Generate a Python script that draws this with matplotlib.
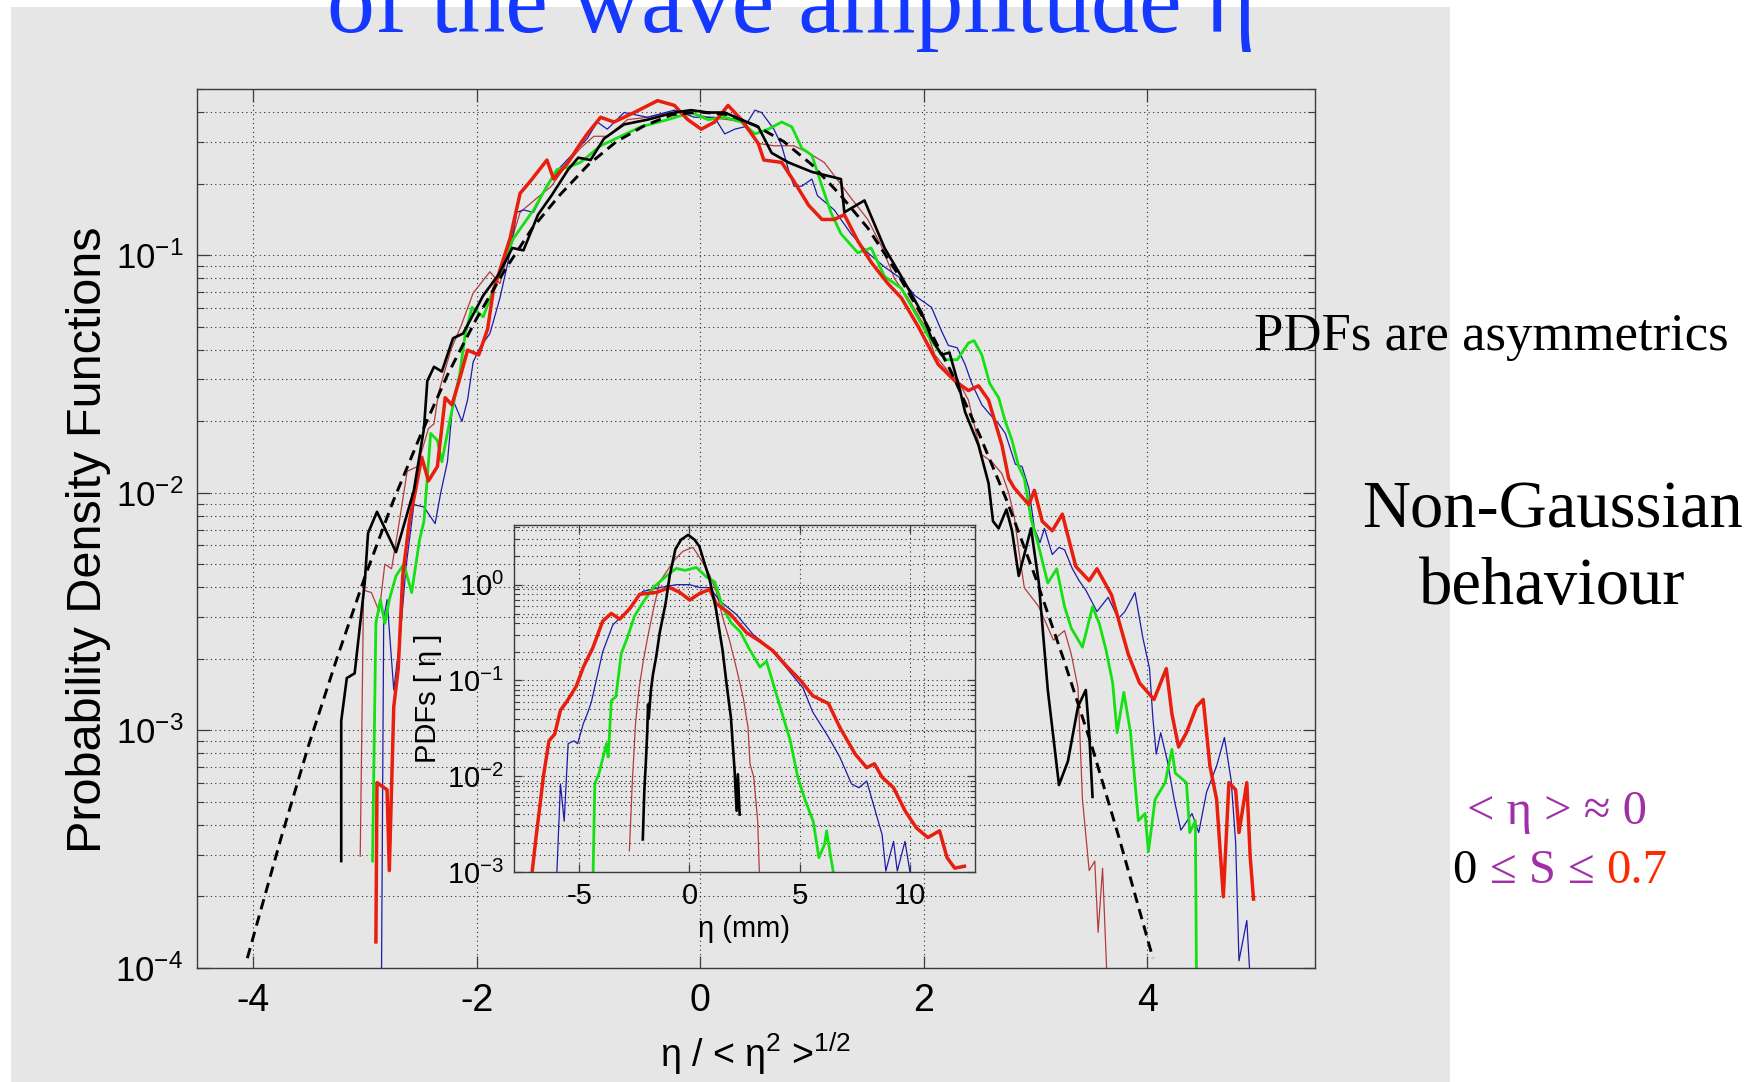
import numpy as np
import matplotlib
matplotlib.use('Agg')
import matplotlib.pyplot as plt
from matplotlib.patches import Rectangle
from matplotlib.ticker import LogLocator, NullFormatter, FixedLocator

plt.rcParams['font.family'] = ['Liberation Sans', 'DejaVu Sans']
plt.rcParams['mathtext.default'] = 'regular'
plt.rcParams['axes.unicode_minus'] = False

# ---------------- data ----------------
# main panel: x = eta / <eta^2>^(1/2), y given as log10(PDF)
gauss_x = [-4.05, -3.75, -3.5, -3.25, -3.0, -2.75, -2.5, -2.25, -2.0, -1.75, -1.5, -1.25, -1.0,
           -0.75, -0.5, -0.25, 0.0, 0.25, 0.5, 0.75, 1.0, 1.25, 1.5, 1.75, 2.0, 2.25, 2.5, 2.75,
           3.0, 3.25, 3.5, 3.75, 4.05]
gauss_pdf = [1.1e-4, 3.5e-4, 8.7e-4, 2.0e-3, 4.4e-3, 9.1e-3, 1.75e-2, 3.2e-2, 5.4e-2, 8.6e-2, 0.13,
             0.18, 0.24, 0.30, 0.35, 0.39, 0.40, 0.39, 0.35, 0.30, 0.24, 0.18, 0.13, 8.6e-2, 5.4e-2,
             3.2e-2, 1.75e-2, 9.1e-3, 4.4e-3, 2.0e-3, 8.7e-4, 3.5e-4, 1.1e-4]

black_x = [-3.21, -3.21, -3.16, -3.09, -3.00, -2.97, -2.89, -2.72, -2.67, -2.56, -2.47, -2.44, -2.38,
           -2.31, -2.26, -2.21, -2.12, -2.03, -1.94, -1.80, -1.68, -1.58, -1.45, -1.33, -1.18, -1.09,
           -0.98, -0.86, -0.68, -0.47, -0.23, -0.08, 0.07, 0.22, 0.37, 0.52, 0.64, 0.79, 1.00, 1.26,
           1.29, 1.47, 1.65, 1.80, 1.98, 2.07, 2.16, 2.23, 2.32, 2.37, 2.49, 2.58, 2.62, 2.67, 2.74,
           2.79, 2.85, 2.90, 2.96, 3.03, 3.11, 3.21, 3.29, 3.38, 3.45, 3.48, 3.51]
black_lg = [-3.55, -2.96, -2.78, -2.76, -2.38, -2.17, -2.08, -2.25, -2.17, -1.99, -1.73, -1.53, -1.47,
            -1.49, -1.42, -1.35, -1.33, -1.25, -1.17, -1.08, -0.97, -0.98, -0.83, -0.75, -0.64, -0.59,
            -0.60, -0.51, -0.45, -0.43, -0.40, -0.39, -0.40, -0.40, -0.43, -0.46, -0.57, -0.61, -0.65,
            -0.68, -0.82, -0.77, -0.97, -1.09, -1.24, -1.35, -1.42, -1.41, -1.56, -1.66, -1.80, -1.96,
            -2.12, -2.15, -2.07, -2.16, -2.35, -2.26, -2.15, -2.38, -2.83, -3.23, -3.13, -2.90, -2.83,
            -3.01, -3.28]

red_x = [-2.90, -2.89, -2.80, -2.78, -2.74, -2.70, -2.66, -2.60, -2.55, -2.49, -2.43, -2.35, -2.28,
         -2.22, -2.15, -2.08, -1.98, -1.90, -1.85, -1.70, -1.61, -1.52, -1.37, -1.31, -1.18, -1.07,
         -1.01, -0.89, -0.77, -0.59, -0.38, -0.23, -0.11, 0.01, 0.13, 0.25, 0.37, 0.52, 0.57, 0.73,
         0.84, 0.97, 1.09, 1.20, 1.29, 1.41, 1.53, 1.68, 1.80, 1.95, 2.13, 2.28, 2.40, 2.49, 2.58,
         2.70, 2.76, 2.81, 2.94, 2.99, 3.06, 3.15, 3.24, 3.30, 3.36, 3.48, 3.55, 3.68, 3.83, 3.93,
         4.06, 4.17, 4.22, 4.28, 4.35, 4.44, 4.50, 4.56, 4.62, 4.68, 4.73, 4.79, 4.82, 4.89, 4.92, 4.95]
red_lg = [-3.89, -3.22, -3.25, -3.59, -2.90, -2.74, -2.35, -2.12, -2.00, -1.85, -1.95, -1.89, -1.60,
          -1.63, -1.52, -1.40, -1.42, -1.31, -1.15, -0.93, -0.74, -0.69, -0.60, -0.68, -0.61, -0.53,
          -0.49, -0.42, -0.44, -0.40, -0.35, -0.37, -0.43, -0.47, -0.44, -0.37, -0.43, -0.53, -0.60,
          -0.61, -0.69, -0.79, -0.85, -0.85, -0.83, -0.94, -1.03, -1.12, -1.18, -1.30, -1.46, -1.53,
          -1.57, -1.55, -1.61, -1.80, -1.94, -1.98, -2.05, -1.99, -2.12, -2.16, -2.09, -2.20, -2.31,
          -2.37, -2.32, -2.43, -2.68, -2.80, -2.87, -2.74, -2.93, -3.07, -3.01, -2.90, -2.87, -3.15,
          -3.29, -3.70, -3.22, -3.25, -3.43, -3.22, -3.53, -3.71]

green_x = [-2.93, -2.90, -2.86, -2.82, -2.78, -2.72, -2.65, -2.58, -2.51, -2.47, -2.41, -2.35, -2.31,
           -2.24, -2.15, -2.10, -2.04, -1.94, -1.83, -1.67, -1.49, -1.37, -1.28, -1.18, -1.07, -0.89,
           -0.71, -0.53, -0.29, -0.08, 0.07, 0.22, 0.37, 0.49, 0.61, 0.73, 0.82, 0.91, 1.00, 1.09,
           1.17, 1.26, 1.41, 1.53, 1.65, 1.80, 1.92, 2.04, 2.19, 2.30, 2.40, 2.45, 2.52, 2.59, 2.67,
           2.73, 2.79, 2.85, 2.90, 2.96, 3.02, 3.11, 3.19, 3.26, 3.32, 3.42, 3.51, 3.57, 3.63, 3.69,
           3.73, 3.79, 3.85, 3.92, 3.98, 4.01, 4.07, 4.16, 4.22, 4.25, 4.35, 4.38, 4.43, 4.44]
green_lg = [-3.55, -2.55, -2.45, -2.55, -2.45, -2.35, -2.30, -2.42, -2.20, -2.12, -1.75, -1.78, -1.87,
            -1.70, -1.50, -1.33, -1.22, -1.26, -1.12, -0.93, -0.81, -0.71, -0.64, -0.63, -0.61, -0.54,
            -0.50, -0.46, -0.43, -0.40, -0.43, -0.42, -0.44, -0.49, -0.47, -0.44, -0.46, -0.55, -0.58,
            -0.71, -0.82, -0.91, -0.99, -0.97, -1.09, -1.14, -1.24, -1.34, -1.44, -1.44, -1.37, -1.36,
            -1.42, -1.54, -1.60, -1.70, -1.78, -1.89, -1.94, -2.11, -2.21, -2.38, -2.32, -2.48, -2.57,
            -2.65, -2.48, -2.55, -2.66, -2.80, -3.01, -2.84, -3.01, -3.38, -3.35, -3.51, -3.29, -3.22,
            -3.08, -3.18, -3.22, -3.43, -3.38, -4.05]

blue_x = [-2.85, -2.83, -2.80, -2.74, -2.68, -2.63, -2.56, -2.47, -2.37, -2.32, -2.26, -2.21, -2.13,
          -2.08, -2.03, -1.97, -1.88, -1.79, -1.70, -1.64, -1.58, -1.49, -1.37, -1.25, -1.13, -1.01,
          -0.92, -0.83, -0.68, -0.47, -0.23, -0.05, 0.13, 0.22, 0.31, 0.40, 0.49, 0.55, 0.66, 0.73,
          0.79, 0.84, 0.91, 1.00, 1.05, 1.20, 1.35, 1.50, 1.65, 1.80, 1.92, 2.07, 2.16, 2.22, 2.30,
          2.37, 2.43, 2.52, 2.61, 2.67, 2.73, 2.82, 2.88, 2.94, 2.99, 3.04, 3.08, 3.15, 3.21, 3.26,
          3.33, 3.39, 3.45, 3.55, 3.65, 3.74, 3.80, 3.89, 3.96, 4.02, 4.05, 4.08, 4.12, 4.18, 4.24,
          4.30, 4.40, 4.46, 4.53, 4.62, 4.69, 4.75, 4.79, 4.82, 4.89, 4.92]
blue_lg = [-4.05, -2.53, -2.45, -2.83, -2.59, -2.31, -2.05, -2.06, -2.13, -2.00, -1.87, -1.61, -1.70,
           -1.61, -1.45, -1.39, -1.33, -1.18, -0.99, -0.82, -0.81, -0.82, -0.71, -0.63, -0.57, -0.51,
           -0.44, -0.47, -0.40, -0.42, -0.39, -0.42, -0.42, -0.49, -0.47, -0.46, -0.39, -0.40, -0.47,
           -0.54, -0.64, -0.71, -0.71, -0.68, -0.75, -0.81, -0.91, -0.99, -1.05, -1.10, -1.17, -1.22,
           -1.32, -1.38, -1.39, -1.46, -1.54, -1.63, -1.68, -1.71, -1.75, -1.88, -1.89, -1.98, -2.15,
           -2.21, -2.15, -2.26, -2.23, -2.24, -2.32, -2.37, -2.41, -2.50, -2.44, -2.53, -2.50, -2.42,
           -2.61, -2.74, -2.95, -3.10, -3.01, -3.13, -3.29, -3.42, -3.35, -3.43, -3.26, -3.15, -3.03,
           -3.21, -3.47, -3.97, -3.80, -4.05]

dred_x = [-3.04, -3.01, -2.94, -2.87, -2.82, -2.76, -2.70, -2.62, -2.53, -2.43, -2.38, -2.34, -2.23,
          -2.14, -2.03, -1.88, -1.79, -1.70, -1.61, -1.46, -1.33, -1.18, -1.07, -0.95, -0.83, -0.65,
          -0.47, -0.29, -0.11, 0.07, 0.25, 0.37, 0.52, 0.66, 0.84, 0.97, 1.11, 1.24, 1.35, 1.50,
          1.62, 1.74, 1.86, 2.01, 2.10, 2.22, 2.31, 2.40, 2.47, 2.52, 2.61, 2.70, 2.76, 2.81, 2.85,
          2.90, 3.03, 3.16, 3.26, 3.32, 3.38, 3.42, 3.48, 3.53, 3.56, 3.60, 3.64]
dred_lg = [-3.53, -2.41, -2.42, -2.50, -2.30, -2.32, -2.15, -1.91, -1.89, -1.73, -1.71, -1.58, -1.40,
           -1.30, -1.16, -1.07, -1.12, -0.96, -0.82, -0.76, -0.71, -0.61, -0.55, -0.50, -0.50, -0.43,
           -0.42, -0.40, -0.40, -0.42, -0.43, -0.44, -0.53, -0.54, -0.54, -0.57, -0.61, -0.69, -0.76,
           -0.85, -0.96, -1.10, -1.18, -1.30, -1.42, -1.49, -1.53, -1.61, -1.75, -1.84, -1.87, -1.92,
           -2.00, -2.10, -2.24, -2.40, -2.48, -2.62, -2.58, -2.68, -2.82, -3.29, -3.59, -3.55, -3.85,
           -3.58, -4.05]

# inset: x = eta (mm), y = log10(PDF)
in_black_x = [-2.12, -2.05, -1.98, -1.92, -1.88, -1.85, -1.75, -1.66, -1.51, -1.35, -1.08, -0.90,
              -0.64, -0.38, -0.06, 0.23, 0.45, 0.61, 0.92, 1.20, 1.50, 1.72, 1.88, 2.05, 2.14, 2.20, 2.28]
in_black_lg = [-2.66, -2.15, -1.85, -1.55, -1.25, -1.40, -1.10, -0.94, -0.75, -0.50, -0.19, 0.09,
               0.37, 0.47, 0.52, 0.47, 0.40, 0.28, 0.05, -0.25, -0.68, -1.10, -1.38, -1.94, -2.36,
               -1.98, -2.40]
in_dred_x = [-2.73, -2.60, -2.45, -2.30, -2.10, -1.90, -1.66, -1.35, -1.00, -0.64, -0.29, 0.16, 0.47,
             0.92, 1.22, 1.52, 1.83, 2.13, 2.45, 2.66, 2.75, 2.92, 3.10, 3.18]
in_dred_lg = [-2.78, -2.08, -1.45, -1.10, -0.80, -0.55, -0.28, 0.03, 0.15, 0.27, 0.35, 0.39, 0.28,
              0.10, -0.07, -0.35, -0.59, -0.87, -1.19, -1.49, -1.87, -2.01, -2.47, -3.05]
in_green_x = [-4.38, -4.30, -4.12, -3.77, -3.69, -3.55, -3.34, -3.10, -2.80, -2.50, -2.10, -1.60,
              -1.00, -0.60, -0.20, 0.32, 0.77, 1.15, 1.52, 1.90, 2.30, 2.74, 3.20, 3.50, 3.80, 4.15,
              4.57, 4.92, 5.27, 5.62, 5.88, 6.14, 6.23, 6.40, 6.57]
in_green_lg = [-3.05, -2.08, -1.98, -1.66, -1.80, -1.21, -1.17, -0.72, -0.54, -0.33, -0.18, -0.02,
               0.10, 0.17, 0.15, 0.18, 0.08, 0.03, -0.24, -0.40, -0.49, -0.68, -0.86, -0.80, -1.03,
               -1.30, -1.62, -2.01, -2.26, -2.47, -2.85, -2.71, -2.57, -2.82, -3.05]
in_red_x = [-7.17, -6.95, -6.82, -6.64, -6.38, -6.12, -5.86, -5.60, -5.14, -4.82, -4.39, -3.94, -3.55,
            -3.17, -2.71, -2.26, -1.50, -0.90, -0.44, 0.01, 0.47, 0.92, 1.22, 1.83, 2.59, 3.20, 3.79,
            4.41, 5.01, 5.60, 6.31, 6.83, 7.53, 8.05, 8.40, 8.75, 9.27, 9.79, 10.31, 10.83, 11.36,
            11.70, 12.05, 12.49]
in_red_lg = [-3.05, -2.60, -2.36, -2.01, -1.63, -1.56, -1.31, -1.23, -1.06, -0.86, -0.66, -0.38,
             -0.30, -0.36, -0.25, -0.10, -0.08, -0.03, -0.08, -0.16, -0.09, -0.05, -0.20, -0.30,
             -0.50, -0.59, -0.69, -0.85, -0.99, -1.16, -1.24, -1.49, -1.77, -1.91, -1.87, -2.01,
             -2.12, -2.36, -2.54, -2.64, -2.57, -2.85, -2.96, -2.94]
in_blue_x = [-6.03, -5.86, -5.69, -5.51, -5.25, -5.08, -4.82, -4.61, -4.45, -3.94, -3.48, -2.86, -2.12,
             -1.35, -0.59, 0.01, 0.47, 0.92, 1.38, 2.13, 2.89, 3.65, 4.41, 5.16, 5.60, 6.31, 6.83,
             7.36, 7.70, 8.05, 8.40, 8.75, 8.92, 9.27, 9.44, 9.79, 10.05]
in_blue_lg = [-3.05, -2.08, -2.47, -1.66, -1.63, -1.66, -1.45, -1.33, -1.22, -0.70, -0.42, -0.28,
              -0.07, -0.03, 0.0, 0.0, -0.03, -0.03, -0.17, -0.31, -0.52, -0.66, -0.87, -1.08, -1.33,
              -1.59, -1.80, -2.08, -2.12, -2.05, -2.33, -2.61, -2.99, -2.68, -2.99, -2.68, -3.05]

main_xticks = [-4, -2, 0, 2, 4]
main_yticks = [1e-4, 1e-3, 1e-2, 1e-1]
main_ytick_labels = [r'$10^{-4}$', r'$10^{-3}$', r'$10^{-2}$', r'$10^{-1}$']
inset_xticks = [-5, 0, 5, 10]
inset_yticks = [1e-3, 1e-2, 1e-1, 1e0]
inset_ytick_labels = [r'$10^{-3}$', r'$10^{-2}$', r'$10^{-1}$', r'$10^{0}$']

# ---------------- styling ----------------
C_BLACK = '#000000'
C_RED = '#e81e0e'
C_GREEN = '#14e014'
C_BLUE = '#1c1ca8'
C_DRED = '#b43c3c'
GRID_KW = dict(linestyle=(0, (1, 3)), color='#2a2a2a', linewidth=0.8)

W, H = 1753, 1082
fig = plt.figure(figsize=(W / 100, H / 100), dpi=100)
fig.patch.set_facecolor('white')
fig.add_artist(Rectangle((11 / W, 0), 1439 / W, 1075 / H, transform=fig.transFigure,
                         facecolor='#e6e6e6', edgecolor='none', zorder=-5))

serif = ['Liberation Serif', 'DejaVu Serif']


def style_axes(ax, labelsize, pad, maj_len, min_len):
    ax.set_facecolor('none')
    for s in ax.spines.values():
        s.set_color('#3c3c3c')
        s.set_linewidth(1.0)
    ax.tick_params(which='both', direction='in', top=True, right=True,
                   labelsize=labelsize, pad=pad, color='#3c3c3c')
    ax.tick_params(which='major', length=maj_len, width=0.9)
    ax.tick_params(which='minor', length=min_len, width=0.8)
    ax.xaxis.set_minor_locator(FixedLocator([]))
    ax.yaxis.set_minor_locator(LogLocator(base=10, subs=np.arange(2, 10)))
    ax.yaxis.set_minor_formatter(NullFormatter())
    ax.grid(True, which='major', axis='both', **GRID_KW)
    ax.grid(True, which='minor', axis='y', **GRID_KW)
    ax.set_axisbelow(True)


# ---------------- main axes ----------------
ax = fig.add_axes([197 / W, 1 - 968 / H, (1315 - 197) / W, (968 - 89) / H])
ax.set_yscale('log')
ax.set_xlim(-4.5, 5.5)
ax.set_ylim(1e-4, 0.5)
style_axes(ax, 25, 10, 9, 5)
ax.tick_params(axis='x', labelsize=27, pad=11)
ax.set_xticks(main_xticks)
ax.set_xticklabels([str(v) for v in main_xticks])
ax.set_yticks(main_yticks)
ax.set_yticklabels(main_ytick_labels)

ax.plot(dred_x, 10 ** np.array(dred_lg), color=C_DRED, lw=0.9)
ax.plot(blue_x, 10 ** np.array(blue_lg), color=C_BLUE, lw=0.9)
ax.plot(green_x, 10 ** np.array(green_lg), color=C_GREEN, lw=2.0)
ax.plot(red_x, 10 ** np.array(red_lg), color=C_RED, lw=2.5)
ax.plot(black_x, 10 ** np.array(black_lg), color=C_BLACK, lw=1.9)
ax.plot(gauss_x, gauss_pdf, color=C_BLACK, lw=2.1, dashes=(3.6, 2.2))

ax.set_ylabel('Probability Density Functions', fontsize=35)
ax.yaxis.set_label_coords(-0.077, 0.487)
ax.set_xlabel('η / < η$^{2}$ >$^{1/2}$', fontsize=27, labelpad=8)

# ---------------- inset ----------------
axi = fig.add_axes([514 / W, 1 - 872 / H, (975 - 514) / W, (872 - 525) / H])
axi.set_yscale('log')
axi.set_xlim(-7.97, 12.97)
axi.set_ylim(1e-3, 4.2)
style_axes(axi, 21, 7, 6, 3.5)
axi.set_xticks(inset_xticks)
axi.set_xticklabels([str(v) for v in inset_xticks])
axi.set_yticks(inset_yticks)
axi.set_yticklabels(inset_ytick_labels)

axi.plot(in_dred_x, 10 ** np.array(in_dred_lg), color=C_DRED, lw=0.9)
axi.plot(in_blue_x, 10 ** np.array(in_blue_lg), color=C_BLUE, lw=0.9)
axi.plot(in_green_x, 10 ** np.array(in_green_lg), color=C_GREEN, lw=2.0)
axi.plot(in_red_x, 10 ** np.array(in_red_lg), color=C_RED, lw=2.5)
axi.plot(in_black_x, 10 ** np.array(in_black_lg), color=C_BLACK, lw=1.9)
axi.set_ylabel('PDFs [ η ]', fontsize=21, labelpad=4)
axi.set_xlabel('η (mm)', fontsize=21, labelpad=4)

# ---------------- slide texts ----------------
fig.text(791 / W, 1 - 32 / H, 'of the wave amplitude η', color='#1438ff', fontsize=69,
         family=serif, ha='center', va='baseline')
fig.text(1254 / W, 1 - 350 / H, 'PDFs are asymmetrics', color='black', fontsize=38,
         family=serif, ha='left', va='baseline')
fig.text(1552 / W, 1 - 528 / H, 'Non-Gaussian', color='black', fontsize=48,
         family=serif, ha='center', va='baseline')
fig.text(1552 / W, 1 - 604 / H, 'behaviour', color='black', fontsize=48,
         family=serif, ha='center', va='baseline')
PURPLE = '#a030a8'
fig.text(1557 / W, 1 - 824 / H, '< η > ≈ 0', color=PURPLE, fontsize=35,
         family=serif, ha='center', va='baseline')

pieces = [('0 ', 'black'), ('≤ S ≤ ', PURPLE), ('0.7', '#ff2a00')]
fig.canvas.draw()
renderer = fig.canvas.get_renderer()
xpix = 1453
for txt, col in pieces:
    t = fig.text(xpix / W, 1 - 883 / H, txt, color=col, fontsize=35, family=serif,
                 ha='left', va='baseline')
    bb = t.get_window_extent(renderer=renderer)
    xpix = bb.x1

fig.savefig('out.png', dpi=100)
